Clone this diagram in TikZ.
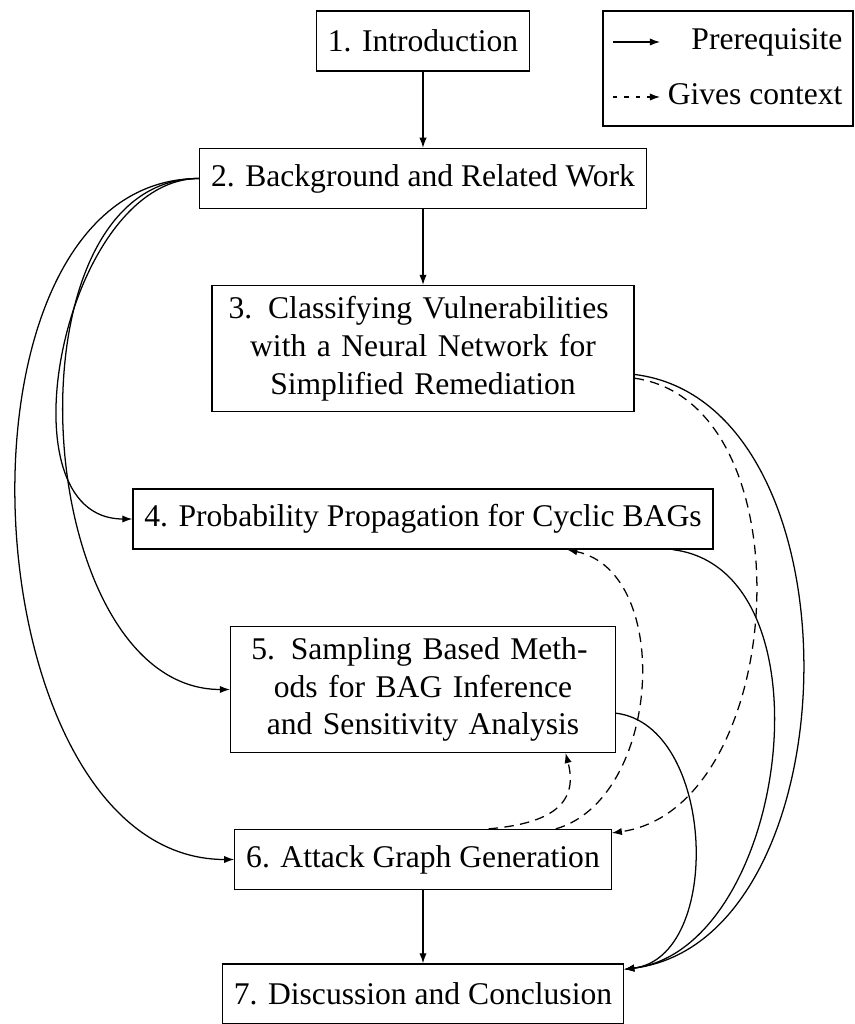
\documentclass[tikz,border=0pt]{standalone}
\usepackage{fontspec}
\setmainfont{Liberation Serif}
\usetikzlibrary{arrows.meta}
\begin{document}
\begin{tikzpicture}[x=0.3165pt, y=0.3165pt,
  box/.style={draw, inner xsep=3.6pt, inner ysep=3.33pt, minimum height=19pt},
  pre/.style={-{Latex[length=3.2pt,width=2.3pt]}},
  ctx/.style={pre, dash pattern=on 3pt off 2pt},
  keyctx/.style={pre, dash pattern=on 1.4pt off 2.2pt},
  keytext/.style={anchor=mid east, inner sep=0pt}]
\useasboundingbox (0,0) rectangle (854,-1024);

% chapter boxes
\node[box] (n1) at (423,-41) {1. Introduction};
\node[box] (n2) at (423,-178.5) {2. Background and Related Work};
\node[box, text width=126.3pt, align=center] (n3) at (423,-348.5)
  {\makebox[123pt][s]{3. Classifying Vulnerabilities}\\with a Neural Network for\\Simplified Remediation};
\node[box] (n4) at (423,-519) {4. Probability Propagation for Cyclic BAGs};
\node[box, text width=114.6pt, align=center] (n5) at (423,-689.5)
  {\makebox[108.6pt][s]{5. Sampling Based Meth-}\\ods for BAG Inference\\and Sensitivity Analysis};
\node[box] (n6) at (423,-859.5) {6. Attack Graph Generation};
\node[box] (n7) at (423,-994) {7. Discussion and Conclusion};

% key
\node[draw, minimum width=79.1pt, minimum height=36.4pt, inner sep=0pt] (key) at (728,-68.5) {};
\coordinate (pa) at (613,-42);
\coordinate (pb) at (660,-42);
\coordinate (ga) at (613,-97);
\coordinate (gb) at (660,-97);
\draw[pre] (pa) -- (pb);
\draw[keyctx] (ga) -- (gb);
\node[keytext] (tpre) at (843,-42) {Prerequisite};
\node[keytext] (tctx) at (843,-97) {Gives context};

% prerequisites
\draw[pre] (n1) -- (n2);
\draw[pre] (n2) -- (n3);
\draw[pre] (n6) -- (n7);
\draw[pre] (n2.west) to[out=180,in=180] (n4.west);
\draw[pre] (n2.west) to[out=180,in=180] (n5.west);
\draw[pre] (n2.west) to[out=180,in=180] (n6.west);
\draw[pre] (n3.-7) to[out=-7,in=7] (n7.7);
\draw[pre] (n4.-7) to[out=-7,in=7] (n7.7);
\draw[pre] (n5.-7) to[out=-7,in=7] (n7.7);

% context
\draw[ctx] (n3.-8) to[out=-8,in=8] (n6.8);
\draw[ctx] (n6.13) to[out=16,in=-12] (n4.-12.5);
\draw[ctx] (n6.25) to[out=5,in=-75,looseness=1.33] (n5.-24.5);
\end{tikzpicture}
\end{document}
